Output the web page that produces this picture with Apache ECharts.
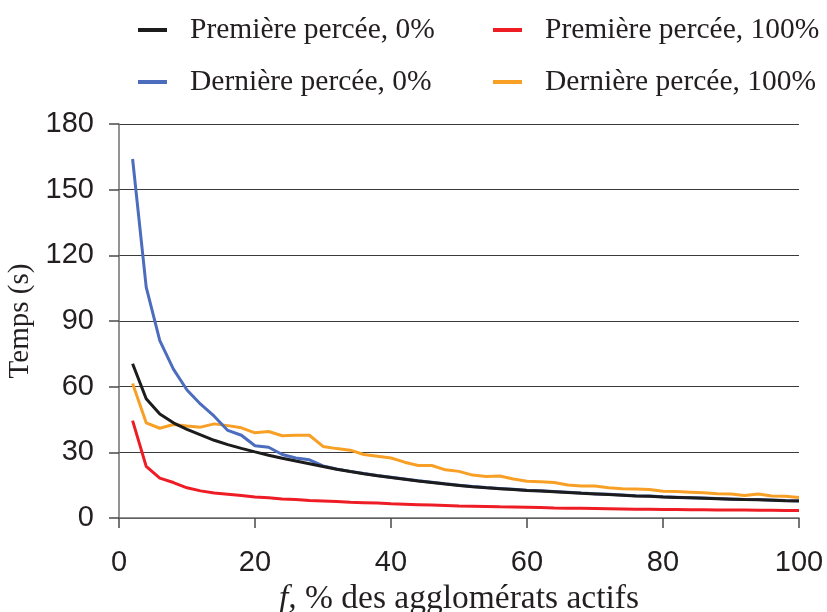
<!DOCTYPE html>
<html><head><meta charset="utf-8">
<script src="https://cdn.jsdelivr.net/npm/echarts@6/dist/echarts.min.js"></script>
<style>html,body{margin:0;padding:0;width:827px;height:612px;overflow:hidden;background:#fff}#c{position:absolute;left:0;top:0;width:827px;height:612px}</style>
</head><body><div id="c"></div>
<script>
const xValues = [2,4,6,8,10,12,14,16,18,20,22,24,26,28,30,32,34,36,38,40,42,44,46,48,50,52,54,56,58,60,62,64,66,68,70,72,74,76,78,80,82,84,86,88,90,92,94,96,98,100];
const premiere0 = [70.5,54.5,47.5,43.5,40.5,38,35.5,33.5,31.8,30.2,28.7,27.3,26,24.8,23.5,22.3,21.2,20.2,19.3,18.5,17.7,16.9,16.2,15.5,14.9,14.3,13.8,13.4,13.0,12.6,12.3,12.0,11.7,11.3,11.0,10.7,10.4,10.1,9.9,9.6,9.4,9.2,9.0,8.8,8.6,8.4,8.3,8.1,7.9,7.8];
const premiere100 = [44.5,23.6,18.2,16.2,13.8,12.4,11.4,10.9,10.3,9.6,9.2,8.7,8.4,8.0,7.8,7.5,7.2,7.0,6.8,6.5,6.3,6.1,5.9,5.7,5.5,5.4,5.3,5.1,5.0,4.9,4.8,4.6,4.5,4.4,4.3,4.2,4.1,4.0,3.95,3.9,3.85,3.8,3.75,3.7,3.65,3.6,3.55,3.5,3.45,3.4];
const derniere0 = [164,105.5,81,68,58.5,52,46.5,40,37.8,33,32.3,29,27.4,26.6,23.8,22.4,21.3,20.3,19.4,18.6,17.8,17.0,16.3,15.6,15.0,14.4,13.9,13.5,13.1,12.7,12.4,12.1,11.8,11.4,11.1,10.8,10.5,10.2,10.0,9.7,9.5,9.3,9.1,8.9,8.7,8.5,8.4,8.2,8.0,7.9];
const derniere100 = [61.4,43.5,41,42.7,42,41.5,43,42.2,41.2,38.9,39.5,37.6,37.8,37.8,32.7,31.7,31,29,28.2,27.4,25.5,24,24,22,21.3,19.6,19,19.2,17.8,16.8,16.6,16.2,15.1,14.6,14.6,13.8,13.4,13.2,13,12.2,12.1,11.8,11.5,11.1,11,10.3,11,10.1,9.9,9.4];
const xTicks = [0,20,40,60,80,100];
const yTicks = [0,30,60,90,120,150,180];
const seriesNames = ['Première percée, 0%','Première percée, 100%','Dernière percée, 0%','Dernière percée, 100%'];
const seriesColors = ['#1c1c1c','#ee1d25','#4c6dbd','#f8a026'];
const seriesData = [premiere0, premiere100, derniere0, derniere100];

const serif = '"Liberation Serif", "DejaVu Serif", serif';
const sans = '"Liberation Sans", Arial, sans-serif';
const legendPos = [[138,15],[493,15],[138,67],[493,67]];

const chart = echarts.init(document.getElementById('c'), null, {renderer:'canvas', width:827, height:612});
chart.setOption({
  animation:false,
  backgroundColor:'#fff',
  grid:{left:119,right:28,top:124,bottom:94,containLabel:false,outerBoundsMode:'none'},
  legend: seriesNames.map((n,i)=>({
    data:[n], left:legendPos[i][0], top:legendPos[i][1], orient:'horizontal', padding:0,
    icon:'rect', itemWidth:29, itemHeight:4, selectedMode:false,
    textStyle:{fontFamily:serif,fontSize:29.5,color:'#231f20',padding:[0,0,8,18]}
  })),
  xAxis:{
    type:'value', min:0, max:100, interval:20,
    name:'{i|f,} % des agglomérats actifs', nameLocation:'middle', nameGap:61,
    nameTextStyle:{fontFamily:serif,fontSize:33.5,color:'#231f20',
      rich:{i:{fontFamily:serif,fontSize:33.5,fontStyle:'italic',color:'#231f20'}}},
    axisLine:{show:true,lineStyle:{color:'#6f6f6f',width:1.5}},
    axisTick:{show:true,length:10,lineStyle:{color:'#4a4a4a',width:1.5}},
    axisLabel:{fontFamily:sans,fontSize:29,color:'#231f20',margin:30,
      formatter:v=>xTicks.includes(v)?String(v):''},
    splitLine:{show:false}
  },
  yAxis:{
    type:'value', min:0, max:180, interval:30,
    name:'Temps (s)', nameLocation:'middle', nameGap:84, nameRotate:90,
    nameTextStyle:{fontFamily:serif,fontSize:29,color:'#231f20'},
    axisLine:{show:true,lineStyle:{color:'#6f6f6f',width:1.5}},
    axisTick:{show:true,length:10,lineStyle:{color:'#4a4a4a',width:1.5}},
    axisLabel:{fontFamily:sans,fontSize:29,color:'#231f20',margin:25,
      formatter:v=>yTicks.includes(v)?String(v):''},
    splitLine:{show:true,lineStyle:{color:'#3a3a3a',width:1}}
  },
  series: seriesNames.map((n,i)=>({
    name:n, type:'line', showSymbol:false, symbol:'none',
    data: xValues.map((x,k)=>[x, seriesData[i][k]]),
    lineStyle:{color:seriesColors[i],width:3}, itemStyle:{color:seriesColors[i]},
    z: [4,3,2,1][i]
  }))
});
</script></body></html>
